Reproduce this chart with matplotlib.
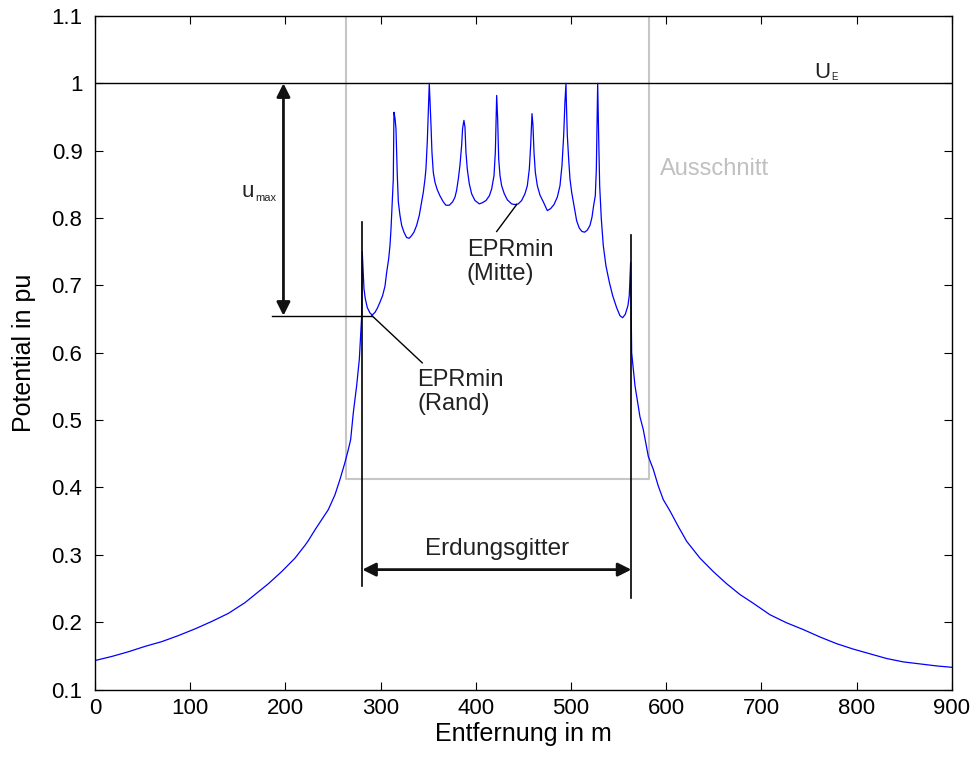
import matplotlib.pyplot as plt

plt.rcParams['font.family'] = ['Liberation Sans', 'DejaVu Sans']

# potential curve (distance in m, potential in pu)
dist = [0, 17.5, 35.0, 52.5, 70.0, 87.5, 105.1, 122.6, 140.1, 157.6, 175.1, 182.1,
        196.1, 210.1, 220.6, 224.1, 231.1, 238.1, 245.1, 252.1, 257.4, 262.6, 266.1,
        268.6, 271.4, 274.9, 277.7, 279.1, 280.2, 280.8,
        282.6, 284.0, 286.1, 288.9, 291.3, 294.2, 296.6, 299.4, 302.2, 304.7, 306.4,
        308.5, 309.9, 311.0, 312.0, 313.4, 314.1,
        315.2, 316.2, 316.9, 317.6, 318.7, 320.4, 322.2, 324.6, 327.4, 330.2, 332.7,
        335.1, 337.9, 340.7, 343.2, 344.9, 346.7, 347.7, 349.1, 350.2, 351.2,
        351.9, 353.0, 354.0, 355.4, 357.2, 359.6, 362.4, 365.9, 368.7, 372.2, 375.7,
        378.2, 379.9, 381.7, 383.4, 385.2, 386.2, 387.6,
        388.7, 389.7, 391.1, 393.2, 395.7, 399.2, 403.8, 407.3, 410.8, 414.3, 416.7,
        419.2, 420.6, 422.0,
        423.0, 424.1, 425.5, 427.2, 430.0, 433.2, 437.7, 441.2, 444.7, 448.2, 451.7,
        454.2, 456.3, 457.7, 459.1,
        460.1, 461.2, 462.6, 464.7, 467.5, 471.0, 475.2, 478.7, 482.2, 485.7, 488.5,
        490.6, 492.4, 493.7, 494.8,
        495.2, 496.2, 497.6, 499.0, 500.8, 502.5, 504.3, 506.0, 508.8, 511.6, 514.4,
        517.2, 520.0, 522.1, 523.9, 525.6, 526.7, 527.4, 528.1,
        529.1, 530.2, 531.9, 534.0, 536.8, 540.3, 543.8, 548.0, 551.5, 554.3, 557.1,
        559.9, 561.3, 562.7,
        563.8, 567.3, 572.5, 576.0, 581.3, 586.5, 591.8, 597.0, 604.1, 612.8, 621.6,
        635.6, 649.6, 663.6, 677.6, 691.6, 709.1, 726.6, 744.1, 761.6, 779.2, 796.6,
        814.2, 831.7, 849.2, 866.7, 884.2, 900]
pot = [0.143, 0.149, 0.156, 0.164, 0.171, 0.180, 0.190, 0.201, 0.213, 0.229, 0.249, 0.257,
       0.275, 0.295, 0.314, 0.321, 0.337, 0.352, 0.367, 0.389, 0.412, 0.437, 0.456,
       0.471, 0.511, 0.551, 0.590, 0.625, 0.655, 0.750,
       0.695, 0.680, 0.667, 0.659, 0.656, 0.660, 0.666, 0.675, 0.685, 0.699, 0.719,
       0.739, 0.759, 0.784, 0.814, 0.858, 0.957,
       0.948, 0.933, 0.898, 0.863, 0.824, 0.804, 0.789, 0.779, 0.771, 0.770, 0.774,
       0.779, 0.789, 0.804, 0.824, 0.838, 0.858, 0.873, 0.913, 0.957, 1.000,
       0.977, 0.938, 0.898, 0.868, 0.853, 0.842, 0.833, 0.824, 0.819, 0.819, 0.824,
       0.831, 0.841, 0.858, 0.878, 0.908, 0.933, 0.945,
       0.935, 0.898, 0.873, 0.851, 0.836, 0.826, 0.821, 0.823, 0.826, 0.833, 0.843,
       0.863, 0.898, 0.982,
       0.948, 0.888, 0.863, 0.848, 0.836, 0.827, 0.821, 0.820, 0.821, 0.826, 0.836,
       0.848, 0.873, 0.908, 0.955,
       0.938, 0.898, 0.868, 0.848, 0.834, 0.824, 0.811, 0.814, 0.820, 0.831, 0.848,
       0.878, 0.923, 0.972, 1.000,
       0.972, 0.923, 0.888, 0.858, 0.838, 0.824, 0.809, 0.796, 0.785, 0.780, 0.779,
       0.782, 0.789, 0.801, 0.819, 0.833, 0.873, 0.933, 1.000,
       0.923, 0.848, 0.799, 0.759, 0.729, 0.705, 0.685, 0.667, 0.655, 0.652, 0.657,
       0.670, 0.685, 0.734,
       0.600, 0.551, 0.505, 0.486, 0.446, 0.427, 0.402, 0.382, 0.365, 0.342, 0.320,
       0.295, 0.275, 0.257, 0.241, 0.228, 0.211, 0.199, 0.189, 0.178, 0.168, 0.160,
       0.153, 0.146, 0.141, 0.138, 0.135, 0.133]

xticks = [0, 100, 200, 300, 400, 500, 600, 700, 800, 900]
yticks = [0.1, 0.2, 0.3, 0.4, 0.5, 0.6, 0.7, 0.8, 0.9, 1.0, 1.1]
ylabels = ['0.1', '0.2', '0.3', '0.4', '0.5', '0.6', '0.7', '0.8', '0.9', '1', '1.1']

# grid edges, section box, EPR levels
grid_left, grid_right = 280.8, 563.5
box_x = [263.4, 582]
box_y = [0.412, 1.1]
u_e = 1.0
epr_rand = 0.655

fig = plt.figure(figsize=(9.76, 7.64), dpi=100)
ax = fig.add_axes([0.0973, 0.0975, 0.8778, 0.8816])

# Ausschnitt box
ax.plot([box_x[0], box_x[0], box_x[1], box_x[1], box_x[0]],
        [box_y[1], box_y[0], box_y[0], box_y[1], box_y[1]], color='#c6c6c6', lw=1.5)
ax.text(593.6, 0.873, 'Ausschnitt', color='#c0c0c0', fontsize=17, va='center')

ax.plot([0, 900], [u_e, u_e], color='k', lw=1.0)
ax.plot(dist, pot, color='#0000ff', lw=0.9)

# grid edges
ax.plot([grid_left, grid_left], [0.253, 0.794], color='k', lw=1.2)
ax.plot([grid_right, grid_right], [0.236, 0.775], color='k', lw=1.2)
ax.annotate('', xy=(grid_left, 0.278), xytext=(grid_right, 0.278),
            arrowprops=dict(arrowstyle='<|-|>', color='#111111', lw=2.0,
                            mutation_scale=20, shrinkA=0, shrinkB=0))
ax.text((grid_left + grid_right) / 2, 0.300, 'Erdungsgitter', fontsize=17.5,
        ha='center', va='baseline', color='#222222')

# u_max
ax.plot([186, 291], [epr_rand, epr_rand], color='k', lw=1.0)
ax.annotate('', xy=(198, u_e), xytext=(198, epr_rand),
            arrowprops=dict(arrowstyle='<|-|>', color='#111111', lw=2.0,
                            mutation_scale=20, shrinkA=0, shrinkB=0))
ax.text(154, 0.831, 'u', fontsize=16, va='baseline', color='#222222')
ax.text(168, 0.825, 'max', fontsize=8, va='baseline', color='#222222')

# U_E
ax.text(756, 1.008, 'U', fontsize=16, va='baseline', color='#222222')
ax.text(773, 1.0055, 'E', fontsize=7, va='baseline', color='#222222')

# EPRmin labels
ax.plot([291, 343.8], [epr_rand, 0.585], color='k', lw=1.0)
ax.text(338.6, 0.5754, 'EPRmin\n(Rand)', fontsize=17, va='top', color='#222222',
        linespacing=1.1)
ax.plot([443, 422], [0.820, 0.780], color='k', lw=1.0)
ax.text(390.5, 0.769, 'EPRmin\n(Mitte)', fontsize=17, va='top', color='#222222',
        linespacing=1.1)

ax.set_xlim(0, 900)
ax.set_ylim(0.1, 1.1)
ax.set_xticks(xticks)
ax.set_yticks(yticks)
ax.set_yticklabels(ylabels)
ax.tick_params(direction='in', top=True, right=True, length=6, width=0.8,
               labelsize=16)
ax.tick_params(axis='y', pad=9)
ax.tick_params(axis='x', pad=6)
for s in ax.spines.values():
    s.set_linewidth(1.0)

ax.set_xlabel('Entfernung in m', fontsize=18, labelpad=2)
ax.set_ylabel('Potential in pu', fontsize=18, labelpad=11)

plt.savefig('out.png', dpi=100)
